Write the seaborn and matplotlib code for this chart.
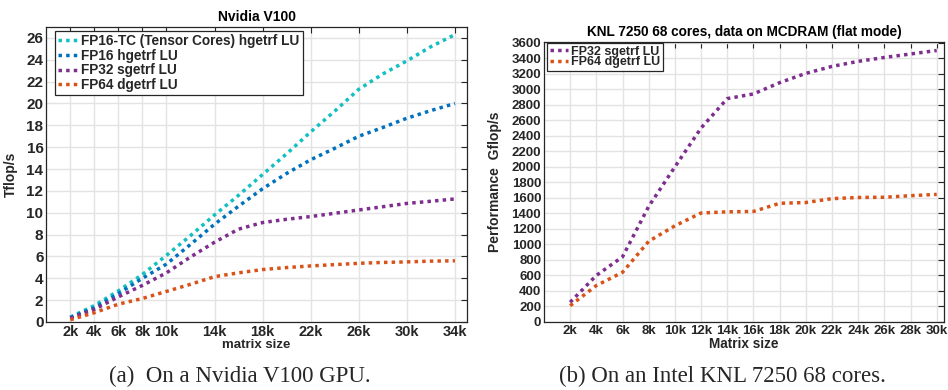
import pandas as pd
import matplotlib.pyplot as plt
import seaborn as sns

# --- dados (tamanho da matriz em milhares) ---
v100_sizes = [2, 4, 6, 8, 10, 12, 14, 16, 18, 20, 22, 24, 26, 28, 30, 32, 34]
v100_fp16tc = [0.45, 1.5, 2.85, 4.35, 6.1, 7.9, 9.8, 11.6, 13.5, 15.4, 17.4, 19.3, 21.3, 22.7, 23.9, 25.2, 26.3]
v100_fp16 = [0.4, 1.3, 2.6, 4.0, 5.3, 7.1, 8.95, 10.6, 12.2, 13.6, 14.85, 15.9, 17.0, 17.8, 18.65, 19.35, 20.0]
v100_fp32 = [0.35, 1.15, 2.3, 3.35, 4.5, 5.95, 7.3, 8.5, 9.1, 9.4, 9.65, 9.95, 10.25, 10.55, 10.85, 11.05, 11.26]
v100_fp64 = [0.2, 0.85, 1.63, 2.15, 2.8, 3.45, 4.15, 4.5, 4.8, 4.98, 5.13, 5.25, 5.37, 5.45, 5.5, 5.57, 5.6]

knl_sizes = [2, 4, 6, 8, 10, 12, 14, 16, 18, 20, 22, 24, 26, 28, 30]
knl_fp32 = [254, 600, 840, 1490, 2000, 2500, 2880, 2940, 3085, 3205, 3295, 3360, 3410, 3455, 3500]
knl_fp64 = [210, 470, 640, 1040, 1240, 1405, 1420, 1425, 1530, 1540, 1590, 1605, 1608, 1628, 1645]

v100_xticks = [2, 4, 6, 8, 10, 14, 18, 22, 26, 30, 34]
knl_xticks = list(range(2, 31, 2))
v100_yticks = list(range(0, 27, 2))
knl_yticks = list(range(0, 3601, 200))

cores = {
    "FP16-TC (Tensor Cores) hgetrf LU": "#12BFC2",
    "FP16 hgetrf LU": "#0072BD",
    "FP32 sgetrf LU": "#7E2F8E",
    "FP64 dgetrf LU": "#D95319",
}

v100_series = {
    "FP16-TC (Tensor Cores) hgetrf LU": v100_fp16tc,
    "FP16 hgetrf LU": v100_fp16,
    "FP32 sgetrf LU": v100_fp32,
    "FP64 dgetrf LU": v100_fp64,
}
knl_series = {
    "FP32 sgetrf LU": knl_fp32,
    "FP64 dgetrf LU": knl_fp64,
}

sns.set_theme(style="whitegrid")
plt.rcParams['font.family'] = ['Liberation Sans', 'DejaVu Sans']
plt.rcParams['font.weight'] = 'bold'
plt.rcParams['axes.labelweight'] = 'bold'
plt.rcParams['axes.titleweight'] = 'bold'

fig = plt.figure(figsize=(9.48, 3.9), dpi=100)
ax1 = fig.add_axes([0.0488, 0.1744, 0.4438, 0.7564])
ax2 = fig.add_axes([0.5738, 0.1744, 0.4219, 0.7180])

pontilhado = (0, (1, 1.2))
escuro = "#262626"


def desenhar(ax, sizes, series):
    for nome, valores in series.items():
        df = pd.DataFrame({"size": sizes, "perf": valores})
        sns.lineplot(data=df, x="size", y="perf", color=cores[nome], label=nome,
                     linestyle=pontilhado, linewidth=2.5, ax=ax)


def estilizar(ax, fs_ticks, fs_x):
    ax.set_facecolor("white")
    ax.grid(True, color="#e3e3e3", linewidth=1.0)
    for s in ax.spines.values():
        s.set_color(escuro)
        s.set_linewidth(0.9)
    ax.tick_params(direction="in", length=4, width=0.8, color=escuro,
                   top=True, right=True, labelcolor=escuro, pad=2)
    ax.tick_params(axis="y", labelsize=fs_ticks)
    ax.tick_params(axis="x", labelsize=fs_x)


desenhar(ax1, v100_sizes, v100_series)
ax1.set_xlim(0, 35)
ax1.set_ylim(0, 27)
ax1.set_xticks(v100_xticks)
ax1.set_xticklabels([f"{k}k" for k in v100_xticks])
ax1.set_yticks(v100_yticks)
estilizar(ax1, 11, 10.5)
ax1.set_title("Nvidia V100", fontsize=10, pad=4, color="black")
ax1.set_xlabel("matrix size", fontsize=9.5, labelpad=0, color=escuro)
ax1.set_ylabel("Tflop/s", fontsize=10, color=escuro)
ax1.yaxis.set_label_coords(-0.068, 0.5)
ax1.legend(loc="upper left", bbox_to_anchor=(0.02, 0.988), borderaxespad=0,
           fontsize=9.8, frameon=True, fancybox=False, framealpha=1,
           edgecolor=escuro, handlelength=1.5, handletextpad=0.2,
           labelspacing=0.05, borderpad=0.25).get_frame().set_linewidth(0.9)

desenhar(ax2, knl_sizes, knl_series)
ax2.set_xlim(0, 30.55)
ax2.set_ylim(0, 3610)
ax2.set_xticks(knl_xticks)
ax2.set_xticklabels([f"{k}k" for k in knl_xticks])
ax2.set_yticks(knl_yticks)
estilizar(ax2, 9.5, 9.5)
ax2.set_title("KNL 7250 68 cores, data on MCDRAM (flat mode)", fontsize=9.8, pad=4, color="black")
ax2.set_xlabel("Matrix size", fontsize=9.8, labelpad=0, color=escuro)
ax2.set_ylabel("Performance  Gflop/s", fontsize=10, color=escuro)
ax2.yaxis.set_label_coords(-0.1045, 0.5)
ax2.legend(loc="upper left", bbox_to_anchor=(0.008, 0.996), borderaxespad=0,
           fontsize=9, frameon=True, fancybox=False, framealpha=1,
           edgecolor=escuro, handlelength=1.5, handletextpad=0.2,
           labelspacing=-0.1, borderpad=0.2).get_frame().set_linewidth(0.9)

fig.text(0.253, 0.036, "(a)  On a Nvidia V100 GPU.", ha="center", va="center",
         fontsize=16.5, family="Liberation Serif", weight="normal")
fig.text(0.762, 0.036, "(b) On an Intel KNL 7250 68 cores.", ha="center", va="center",
         fontsize=16.5, family="Liberation Serif", weight="normal")

fig.savefig("out.png", dpi=100)
plt.close(fig)
